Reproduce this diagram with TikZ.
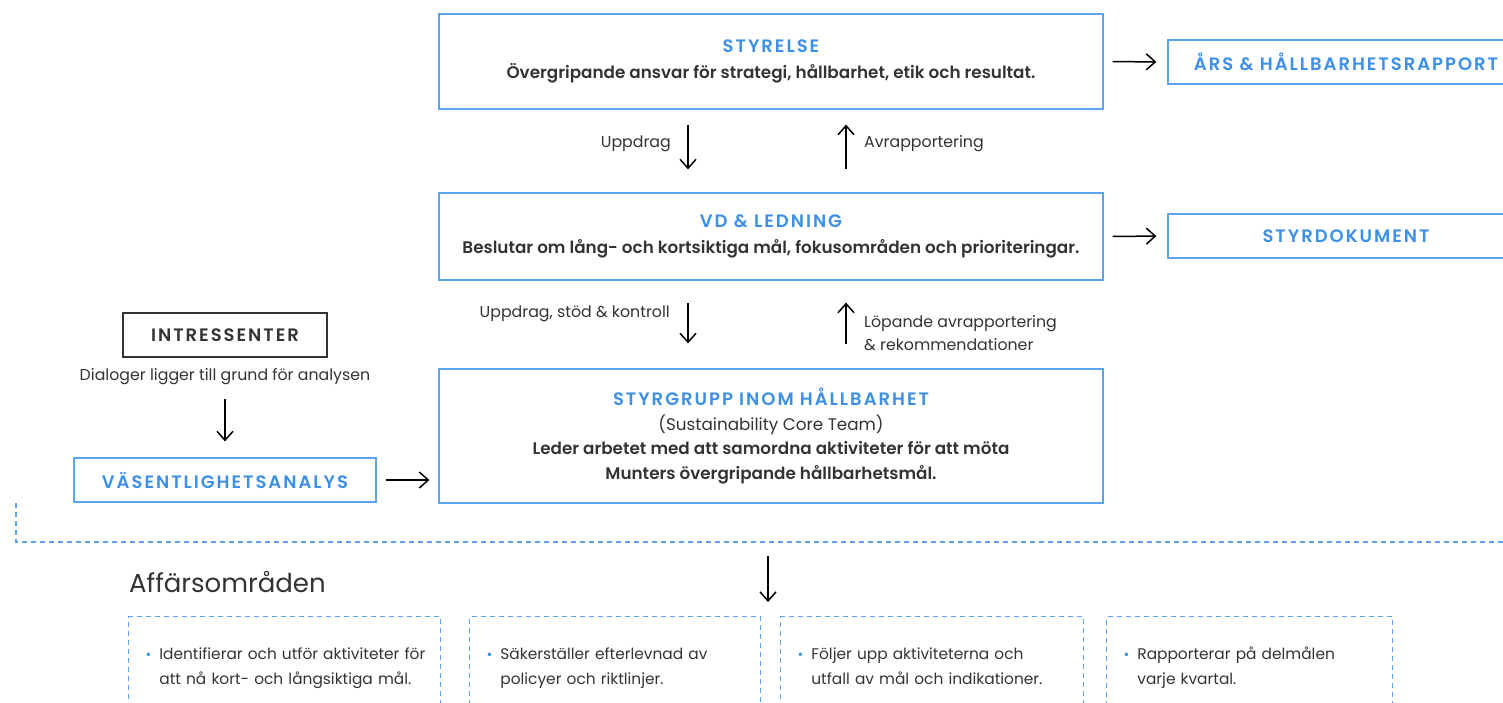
\documentclass[tikz,border=0pt]{standalone}
\usepackage{fontspec}
\setmainfont{Poppins}[BoldFont={Poppins SemiBold}]
\usetikzlibrary{arrows.meta}
\definecolor{mblue}{HTML}{3D8FE8}
\definecolor{mline}{HTML}{5CA2EE}
\definecolor{mtext}{HTML}{333333}
\newcommand{\hd}{\fontsize{18}{26}\selectfont\bfseries\addfontfeature{LetterSpace=11}}
\newcommand{\bul}[2]{\begin{tabular}{@{}l@{\hspace{8pt}}l@{}}\textcolor{mblue}{\fontsize{14}{14}\selectfont•} & #1\\ & #2\end{tabular}}

\begin{document}
\begin{tikzpicture}[x=1pt,y=-1pt,>={Straight Barb[length=9pt,width=16pt]},
  box/.style={draw=mline,line width=1.2pt,inner sep=0pt,align=center,text=mtext,font=\fontsize{16.8}{26}\selectfont},
  arr/.style={->,line width=1.5pt},
  lbl/.style={text=mtext,inner sep=0pt,font=\fontsize{15.8}{23}\selectfont},
  sep/.style={draw=mline,line width=1.2pt,dash pattern=on 5pt off 4pt},
  area/.style={sep,anchor=north west,minimum height=100pt,inner xsep=17pt,inner ysep=0pt,align=left,text=mtext,font=\fontsize{15.4}{25}\selectfont}]
\useasboundingbox (0,0) rectangle (1503,702);

% main column
\node[box,minimum width=664pt,minimum height=95pt] (styrelse) at (771,61.5)
  {{\hd\color{mblue}STYRELSE}\\ {\bfseries Övergripande ansvar för strategi, hållbarhet, etik och resultat.}};
\node[box,minimum width=664pt,minimum height=87pt] (vd) at (771,236.5)
  {{\hd\color{mblue}VD \& LEDNING}\\ {\bfseries Beslutar om lång- och kortsiktiga mål, fokusområden och prioriteringar.}};
\node[box,minimum width=664pt,minimum height=134pt,font=\fontsize{16.8}{24.5}\selectfont] (styrgrupp) at (771,436)
  {{\hd\color{mblue}STYRGRUPP INOM HÅLLBARHET}\\ (Sustainability Core Team)\\
   {\bfseries Leder arbetet med att samordna aktiviteter för att möta}\\ {\bfseries Munters övergripande hållbarhetsmål.}};

% right side
\node[box,minimum width=356pt,minimum height=44pt,text=mblue] (ars) at (1346,62) {\hd ÅRS \& HÅLLBARHETSRAPPORT};
\node[box,minimum width=356pt,minimum height=44pt,text=mblue] (styrdok) at (1346,236) {\hd STYRDOKUMENT};

% left side
\node[box,draw=mtext,minimum width=204pt,minimum height=44pt] (intressenter) at (225,335) {\hd INTRESSENTER};
\node[lbl] (dialog) at (225,377) {Dialoger ligger till grund för analysen};
\node[box,minimum width=302pt,minimum height=44pt,text=mblue] (vasentlighet) at (225,480) {\hd VÄSENTLIGHETSANALYS};

% labels
\node[lbl,anchor=east] (l1) at (671,144) {Uppdrag};
\node[lbl,anchor=west] (l2) at (864,144) {Avrapportering};
\node[lbl,anchor=east] (l3) at (670,314) {Uppdrag, stöd \& kontroll};
\node[lbl,anchor=west,align=left] (l4) at (864,333.5) {Löpande avrapportering\\\& rekommendationer};

\coordinate (c1) at (688,0);
\coordinate (c2) at (846,0);
\draw[arr,shorten <=9pt,shorten >=11pt] (styrelse.east) -- (ars.west);
\draw[arr,shorten <=9pt,shorten >=11pt] (vd.east) -- (styrdok.west);
\draw[arr,shorten <=15pt,shorten >=23pt] (styrelse.south -| c1) -- (vd.north -| c1);
\draw[arr,shorten <=23pt,shorten >=15pt] (vd.north -| c2) -- (styrelse.south -| c2);
\draw[arr,shorten <=22pt,shorten >=25pt] (vd.south -| c1) -- (styrgrupp.north -| c1);
\draw[arr,shorten <=24pt,shorten >=22pt] (styrgrupp.north -| c2) -- (vd.south -| c2);
\draw[arr,shorten <=41pt,shorten >=16pt] (intressenter.south) -- (vasentlighet.north);
\draw[arr,shorten <=9pt,shorten >=9pt] (vasentlighet.east) -- (vasentlighet.east -| styrgrupp.west);

% affarsomraden
\coordinate (sepA) at (16,503);
\coordinate (sepB) at (16,542);
\coordinate (sepC) at (1503,542);
\draw[sep] (sepA) -- (sepB) -- (sepC);
\coordinate (down0) at (768,556);
\coordinate (down1) at (768,602);
\draw[arr] (down0) -- (down1);
\node[anchor=west,inner sep=0pt,text=mtext,font=\fontsize{26}{30}\selectfont] (affar) at (129,582) {Affärsområden};

\node[area,minimum width=312pt,text width=278pt] (ba1) at (128,616) {\bul{Identifierar och utför aktiviteter för}{att nå kort- och långsiktiga mål.}};
\node[area,minimum width=291pt,text width=257pt] (ba2) at (469,616) {\bul{Säkerställer efterlevnad av}{policyer och riktlinjer.}};
\node[area,minimum width=303pt,text width=269pt] (ba3) at (780,616) {\bul{Följer upp aktiviteterna och}{utfall av mål och indikationer.}};
\node[area,minimum width=286pt,text width=252pt] (ba4) at (1106,616) {\bul{Rapporterar på delmålen}{varje kvartal.}};
\end{tikzpicture}
\end{document}
